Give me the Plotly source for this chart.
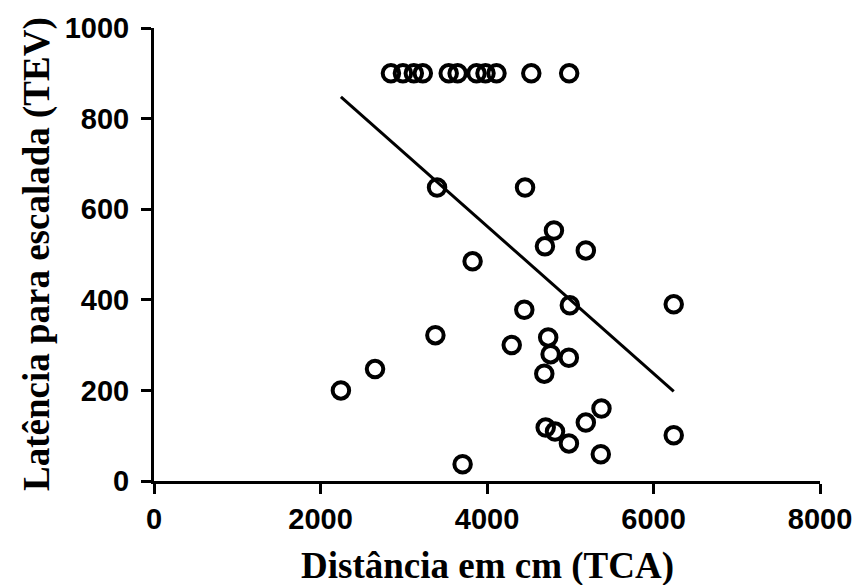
import plotly.graph_objects as go

# Distance travelled (cm, TCA) and climbing latency (TEV) per animal
distancia = [2846, 2990, 3121, 3229, 3540, 3647, 3874, 3982, 4114, 4532, 4987,
             3400, 4457, 4804, 4696, 5187, 3827, 4995, 4448, 6243, 3380,
             4297, 4735, 4764, 4983, 4688, 2655, 2245, 5375, 5187, 4705,
             4817, 4984, 5367, 3707, 6243]
latencia = [900, 900, 900, 900, 900, 900, 900, 900, 900, 900, 900,
            648, 648, 553, 518, 509, 485, 388, 378, 390, 322,
            300, 317, 280, 272, 237, 247, 200, 160, 129, 118,
            109, 83, 59, 37, 101]

# Linear regression line across the observed distance range
reta_x = [2245, 6243]
reta_y = [848, 198]

x_ticks = [0, 2000, 4000, 6000, 8000]
y_ticks = [0, 200, 400, 600, 800, 1000]

fig = go.Figure()
fig.add_trace(go.Scatter(
    x=reta_x, y=reta_y, mode="lines",
    line=dict(color="black", width=3),
    showlegend=False, hoverinfo="skip"))
fig.add_trace(go.Scatter(
    x=distancia, y=latencia, mode="markers",
    marker=dict(symbol="circle-open", size=16.5, color="black",
                line=dict(color="black", width=4)),
    showlegend=False))

tick_font = dict(family="Liberation Sans, Arial", size=29, color="black", weight="bold")
title_font = dict(family="Liberation Serif, Times New Roman", size=37, color="black", weight="bold")

axis_common = dict(
    showline=True, linecolor="black", linewidth=3,
    ticks="outside", ticklen=10, tickwidth=3, tickcolor="black",
    showgrid=False, zeroline=False, tickfont=tick_font,
)

fig.update_xaxes(range=[0, 8000], tickvals=x_ticks, ticktext=[str(v) for v in x_ticks], **axis_common)
fig.update_yaxes(range=[0, 1000], tickvals=y_ticks, ticktext=[str(v) for v in y_ticks],
                 ticklabelstandoff=6, **axis_common)

fig.add_annotation(text="Distância em cm (TCA)", xref="paper", yref="paper",
                   x=0.5, y=-0.1876, xanchor="center", yanchor="middle",
                   showarrow=False, font=title_font)
fig.add_annotation(text="Latência para escalada (TEV)", xref="paper", yref="paper",
                   x=-0.1764, y=0.5, xanchor="center", yanchor="middle",
                   textangle=-90, showarrow=False, font=title_font)

fig.update_layout(
    width=864, height=585,
    margin=dict(l=154, r=41, t=28, b=104),
    paper_bgcolor="white", plot_bgcolor="white",
)

fig.write_html("out.html")
